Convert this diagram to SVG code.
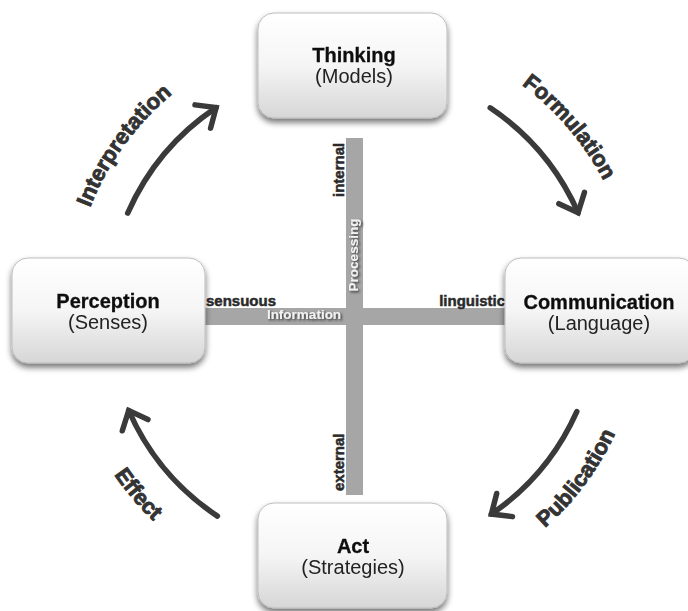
<svg xmlns="http://www.w3.org/2000/svg" width="688" height="611" viewBox="0 0 688 611">
  <defs>
    <linearGradient id="boxFill" x1="0" y1="0" x2="0" y2="1">
      <stop offset="0" stop-color="#ffffff"/>
      <stop offset="0.5" stop-color="#f5f5f5"/>
      <stop offset="1" stop-color="#d6d6d6"/>
    </linearGradient>
    <filter id="boxShadow" x="-20%" y="-20%" width="140%" height="150%">
      <feGaussianBlur in="SourceAlpha" stdDeviation="3"/>
      <feOffset dx="0" dy="4" result="b"/>
      <feComponentTransfer><feFuncA type="linear" slope="0.55"/></feComponentTransfer>
      <feMerge><feMergeNode/><feMergeNode in="SourceGraphic"/></feMerge>
    </filter>
    <filter id="textShadow" x="-20%" y="-40%" width="140%" height="180%">
      <feDropShadow dx="1.5" dy="1.5" stdDeviation="1.2" flood-color="#222" flood-opacity="0.85"/>
    </filter>
    <marker id="chevron" markerUnits="userSpaceOnUse" markerWidth="44" markerHeight="44" viewBox="-22 -22 44 44" refX="0" refY="0" orient="auto">
      <path d="M-16,-14 L0,0 L-16,14" fill="none" stroke="#3a3a3a" stroke-width="5.5" stroke-linecap="round" stroke-linejoin="miter"/>
    </marker>
    <path id="arcInterp" d="M70,312 A283,283 0 0 1 265.6,42.8"/>
    <path id="arcForm" d="M419.1,36.8 A283,283 0 0 1 635.1,289.8"/>
    <path id="arcPub" d="M439.4,587.8 A289,289 0 0 0 642,315"/>
    <path id="arcEff" d="M64.8,333.7 A289,289 0 0 0 284.6,592.8"/>
  </defs>
  <style>
    .box { fill: url(#boxFill); stroke: #bdbdbd; stroke-width: 1; }
    .title { font-family: "Liberation Sans", Arial, sans-serif; font-size: 20px; font-weight: bold; fill: #111; text-anchor: middle; stroke: #111; stroke-width: 0.3; }
    .sub { font-family: "Liberation Sans", Arial, sans-serif; font-size: 20px; fill: #222; text-anchor: middle; }
    .bar { fill: #a6a6a6; }
    .axis { font-family: "Liberation Sans", Arial, sans-serif; font-size: 15px; font-weight: bold; fill: #2a2a2a; stroke: #2a2a2a; stroke-width: 0.5; }
    .inbar { font-family: "Liberation Sans", Arial, sans-serif; font-size: 13.5px; font-weight: bold; fill: #f2f2f2; }
    .cycle { fill: none; stroke: #3a3a3a; stroke-width: 5.5; stroke-linecap: round; marker-end: url(#chevron); }
    .verb { font-family: "Liberation Sans", Arial, sans-serif; font-size: 22px; font-weight: bold; fill: #333; stroke: #333; stroke-width: 0.9; }
  </style>

  <!-- central axes -->
  <g id="axes">
    <rect class="bar" x="198" y="308" width="315" height="17"/>
    <rect class="bar" x="346" y="138" width="17" height="357"/>
    <text class="axis" transform="translate(344,197) rotate(-90)">internal</text>
    <text class="axis" transform="translate(344,491) rotate(-90)">external</text>
    <text class="axis" x="206" y="306">sensuous</text>
    <text class="axis" x="505" y="306" text-anchor="end">linguistic</text>
    <g filter="url(#textShadow)">
      <text class="inbar" x="304" y="319" text-anchor="middle">Information</text>
      <text class="inbar" transform="translate(358,255) rotate(-90)" text-anchor="middle">Processing</text>
    </g>
  </g>

  <!-- cycle arrows -->
  <g id="connectors">
    <path class="cycle" d="M127.7,213.1 A246,246 0 0 1 216.1,107.6"/>
    <path class="cycle" d="M490.2,107.8 A246,246 0 0 1 578.1,212.7"/>
    <path class="cycle" d="M576.8,411.6 A245,245 0 0 1 491.4,514.1"/>
    <path class="cycle" d="M217.4,516.1 A245,245 0 0 1 128.7,410.5"/>
    <text class="verb"><textPath href="#arcInterp" startOffset="50%" text-anchor="middle">Interpretation</textPath></text>
    <text class="verb"><textPath href="#arcForm" startOffset="50%" text-anchor="middle">Formulation</textPath></text>
    <text class="verb"><textPath href="#arcPub" startOffset="50%" text-anchor="middle">Publication</textPath></text>
    <text class="verb"><textPath href="#arcEff" startOffset="50%" text-anchor="middle">Effect</textPath></text>
  </g>

  <g id="thinking" filter="url(#boxShadow)">
    <rect class="box" x="258" y="13" width="189" height="105" rx="16"/>
    <text class="title" x="354" y="62">Thinking</text>
    <text class="sub" x="354" y="83">(Models)</text>
  </g>

  <g id="perception" filter="url(#boxShadow)">
    <rect class="box" x="12" y="258" width="193" height="105" rx="16"/>
    <text class="title" x="108" y="308">Perception</text>
    <text class="sub" x="108" y="329">(Senses)</text>
  </g>

  <g id="communication" filter="url(#boxShadow)">
    <rect class="box" x="505" y="258" width="190" height="105" rx="16"/>
    <text class="title" x="599" y="309">Communication</text>
    <text class="sub" x="599" y="330">(Language)</text>
  </g>

  <g id="act" filter="url(#boxShadow)">
    <rect class="box" x="258" y="503" width="189" height="105" rx="16"/>
    <text class="title" x="353" y="553">Act</text>
    <text class="sub" x="353" y="574">(Strategies)</text>
  </g>
</svg>
